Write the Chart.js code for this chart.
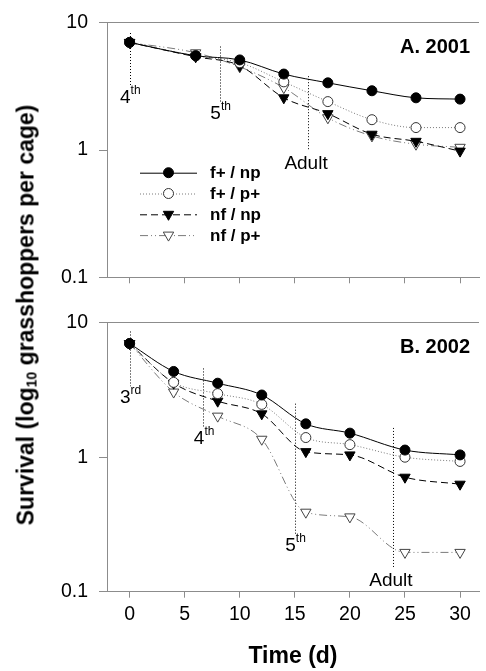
<!DOCTYPE html>
<html>
<head>
<meta charset="utf-8">
<script src="https://cdn.jsdelivr.net/npm/chart.js@4.4.1/dist/chart.umd.min.js"></script>
<style>
  body { margin: 0; background: #fff; }
  #wrap { position: relative; width: 486px; height: 671px; overflow: hidden; }
  canvas { position: absolute; left: 0; }
  #ytitle {
    position: absolute; left: 26px; top: 315px;
    transform: translate(-50%, -50%) rotate(-90deg);
    white-space: nowrap; color: #000;
    font: bold 23px 'Liberation Sans', Arial, Helvetica, sans-serif;
  }
  #ytitle sub { font-size: 14px; vertical-align: -3px; }
</style>
</head>
<body>
<div id="wrap">
  <canvas id="chartA" width="486" height="300" style="top:0px"></canvas>
  <canvas id="chartB" width="486" height="371" style="top:300px"></canvas>
  <div id="ytitle">Survival (log<sub>10</sub> grasshoppers per cage)</div>
</div>
<script>
const FONT = "'Liberation Sans', Arial, Helvetica, sans-serif";
const AXIS = "#8c8c8c";

const xTicks = [0, 5, 10, 15, 20, 25, 30];
const yTicks = [0.1, 1, 10];
const seriesNames = ["f+ / np", "f+ / p+", "nf / np", "nf / p+"];
const panelTitles = ["A. 2001", "B. 2002"];

// panel A (2001)
const daysA = [0, 6, 10, 14, 18, 22, 26, 30];
const fpNpA = [7.0, 5.5, 5.1, 3.95, 3.37, 2.92, 2.57, 2.51];
const fpPpA = [7.0, 5.5, 4.85, 3.43, 2.40, 1.73, 1.50, 1.50];
const nfNpA = [7.0, 5.4, 4.6, 2.57, 1.93, 1.33, 1.17, 0.98];
const nfPpA = [7.0, 5.8, 4.5, 3.09, 1.79, 1.29, 1.11, 1.05];

// panel B (2002)
const daysB = [0, 4, 8, 12, 16, 20, 25, 30];
const fpNpB = [7.0, 4.34, 3.55, 2.90, 1.77, 1.51, 1.13, 1.04];
const fpPpB = [7.0, 3.6, 2.97, 2.47, 1.40, 1.24, 1.00, 0.93];
const nfNpB = [7.0, 3.55, 2.61, 2.10, 1.10, 1.04, 0.71, 0.63];
const nfPpB = [7.0, 3.05, 2.02, 1.36, 0.39, 0.36, 0.196, 0.196];

// instar markers (dotted verticals)
const stageDaysA = [0, 8.2, 16.2];
const stageTopA = [8.3, 6.5, 3.8];
const stageEndA = [3.2, 2.4, 0.98];
const stageLabelA = ["4", "5", "Adult"];
const stageSupA = ["th", "th", ""];

const stageDaysB = [0, 6.7, 15.0, 23.9];
const stageTopB = [8.6, 4.57, 2.5, 1.65];
const stageEndB = [3.37, 1.69, 0.27, 0.151];
const stageLabelB = ["3", "4", "5", "Adult"];
const stageSupB = ["rd", "th", "th", ""];

const styles = [
  { line: "#000", dash: [], shape: "circle", r: 5, fill: "#000", edge: "#000", rot: 0 },
  { line: "#7a7a7a", dash: [1, 2], shape: "circle", r: 5, fill: "#fff", edge: "#333", rot: 0 },
  { line: "#000", dash: [7, 4], shape: "triangle", r: 6, fill: "#000", edge: "#000", rot: 180 },
  { line: "#7a7a7a", dash: [8, 3, 1, 3, 1, 3], shape: "triangle", r: 6, fill: "#fff", edge: "#444", rot: 180 }
];

function makeDatasets(days, values) {
  return values.map((vals, i) => ({
    label: seriesNames[i],
    data: days.map((d, j) => ({ x: d, y: vals[j] })),
    borderColor: styles[i].line,
    borderWidth: 1,
    borderDash: styles[i].dash,
    pointStyle: styles[i].shape,
    pointRadius: styles[i].r,
    pointRotation: styles[i].rot,
    pointBackgroundColor: styles[i].fill,
    pointBorderColor: styles[i].edge,
    pointBorderWidth: 1,
    cubicInterpolationMode: "monotone",
    fill: false,
    clip: false
  }));
}

function decor(title, stDays, stTop, stEnd, stLabel, stSup, withLegend) {
  return {
    id: "decor",
    beforeDatasetsDraw(chart) {
      const { ctx, scales: { x, y } } = chart;
      ctx.save();
      ctx.strokeStyle = "#000";
      ctx.lineWidth = 1;
      ctx.setLineDash([1, 2]);
      stDays.forEach((d, i) => {
        const px = Math.round(x.getPixelForValue(d)) + 0.5;
        ctx.beginPath();
        ctx.moveTo(px, y.getPixelForValue(stTop[i]));
        ctx.lineTo(px, y.getPixelForValue(stEnd[i]));
        ctx.stroke();
      });
      ctx.setLineDash([]);
      ctx.fillStyle = "#000";
      ctx.textBaseline = "alphabetic";
      stDays.forEach((d, i) => {
        const px = x.getPixelForValue(d);
        const base = y.getPixelForValue(stEnd[i]) + 17;
        ctx.font = "19px " + FONT;
        if (stSup[i]) {
          ctx.textAlign = "right";
          ctx.fillText(stLabel[i], px + 1, base);
          ctx.font = "12px " + FONT;
          ctx.textAlign = "left";
          ctx.fillText(stSup[i], px + 1, base - 9);
        } else {
          ctx.textAlign = "center";
          ctx.fillText(stLabel[i], px - 2, base + 1);
        }
      });
      ctx.restore();
    },
    afterDraw(chart) {
      const { ctx, chartArea } = chart;
      ctx.save();
      ctx.fillStyle = "#000";
      ctx.font = "bold 20px " + FONT;
      ctx.textAlign = "right";
      ctx.textBaseline = "alphabetic";
      ctx.fillText(title, chartArea.right - 9, chartArea.top + 30);
      if (withLegend) {
        chart.data.datasets.forEach((ds, i) => {
          const ly = 172.7 + i * 20.8;
          ctx.strokeStyle = ds.borderColor;
          ctx.lineWidth = 1;
          ctx.setLineDash(ds.borderDash);
          ctx.beginPath();
          ctx.moveTo(140, ly + 0.5);
          ctx.lineTo(197, ly + 0.5);
          ctx.stroke();
          ctx.setLineDash([]);
          ctx.fillStyle = ds.pointBackgroundColor;
          ctx.strokeStyle = ds.pointBorderColor;
          Chart.helpers.drawPoint(ctx, {
            pointStyle: ds.pointStyle, rotation: ds.pointRotation,
            radius: ds.pointRadius, borderWidth: 1
          }, 168.5, ly);
          ctx.fillStyle = "#000";
          ctx.font = "bold 17px " + FONT;
          ctx.textAlign = "left";
          ctx.textBaseline = "middle";
          ctx.fillText(ds.label, 210, ly + 1);
        });
      }
      ctx.restore();
    }
  };
}

function makeChart(id, days, values, title, stages, opts) {
  return new Chart(document.getElementById(id), {
    type: "line",
    data: { datasets: makeDatasets(days, values) },
    options: {
      responsive: false,
      animation: false,
      devicePixelRatio: 1,
      layout: { padding: { top: opts.top, left: 0, right: 0, bottom: 0 } },
      plugins: { legend: { display: false }, tooltip: { enabled: false } },
      scales: {
        x: {
          type: "linear",
          min: -2.05,
          max: 31.72,
          afterBuildTicks: s => { s.ticks = xTicks.map(v => ({ value: v })); },
          afterFit: s => { s.height = opts.xHeight; },
          grid: { drawOnChartArea: false, drawTicks: true, tickLength: 6, tickColor: AXIS, color: AXIS },
          border: { color: AXIS, width: 1 },
          ticks: {
            display: opts.xLabels,
            padding: 5,
            color: "#000",
            font: { family: FONT, size: 19.5 },
            callback: v => String(v)
          },
          title: {
            display: opts.xLabels,
            text: "Time (d)",
            color: "#000",
            font: { family: FONT, size: 23, weight: "bold" },
            padding: { top: 0, bottom: 1 }
          }
        },
        y: {
          type: "logarithmic",
          min: 0.1,
          max: 10,
          afterBuildTicks: s => { s.ticks = yTicks.map(v => ({ value: v })); },
          afterFit: s => { s.width = 107; },
          grid: {
            drawOnChartArea: true,
            drawTicks: true,
            tickLength: 8,
            tickColor: AXIS,
            color: c => (c.tick && c.tick.value === 10 ? AXIS : "rgba(0,0,0,0)")
          },
          border: { color: AXIS, width: 1 },
          ticks: {
            padding: 11,
            color: "#000",
            font: { family: FONT, size: 19.5 },
            callback: v => String(v)
          }
        }
      }
    },
    plugins: [decor(title, ...stages, opts.legend)]
  });
}

makeChart("chartA", daysA, [fpNpA, fpPpA, nfNpA, nfPpA], panelTitles[0],
  [stageDaysA, stageTopA, stageEndA, stageLabelA, stageSupA],
  { top: 16.7, xHeight: 15.7, xLabels: false, legend: true });

makeChart("chartB", daysB, [fpNpB, fpPpB, nfNpB, nfPpB], panelTitles[1],
  [stageDaysB, stageTopB, stageEndB, stageLabelB, stageSupB],
  { top: 22.7, xHeight: 79.3, xLabels: true, legend: false });
</script>
</body>
</html>
